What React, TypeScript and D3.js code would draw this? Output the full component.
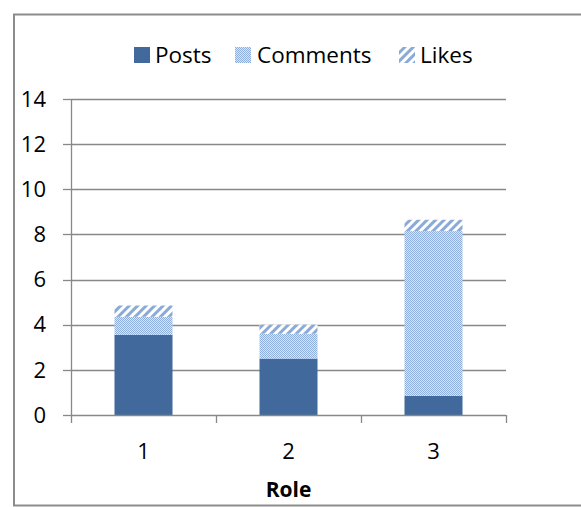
import React from 'react';
import * as d3 from 'd3';

const roles = ['1', '2', '3'];
const posts = [3.55, 2.5, 0.85];
const comments = [0.8, 1.1, 7.3];
const likes = [0.5, 0.4, 0.5];
const seriesNames = ['Posts', 'Comments', 'Likes'];
const yTicks = [0, 2, 4, 6, 8, 10, 12, 14];

const W = 581;
const H = 507;
const margin = { left: 71, right: 75, top: 99, bottom: 92 };
const font = '"Open Sans", "Liberation Sans", sans-serif';
const fills = ['#41699b', 'url(#pat-comments)', 'url(#pat-likes)'];
const gridColor = '#888888';

export default function App() {
  const x = d3.scaleBand<string>()
    .domain(roles)
    .range([margin.left, W - margin.right])
    .paddingInner(0.6)
    .paddingOuter(0.3);
  const y = d3.scaleLinear().domain([0, 14]).range([H - margin.bottom, margin.top]);

  const table = roles.map((r, i) => ({ role: r, Posts: posts[i], Comments: comments[i], Likes: likes[i] }));
  const stacked = d3.stack<any>().keys(seriesNames)(table);

  const step = x.step();
  const boundaries = d3.range(roles.length + 1).map(i => margin.left + i * step);

  const legendItems = [
    { name: 'Posts', sx: 134, tx: 155 },
    { name: 'Comments', sx: 235, tx: 257 },
    { name: 'Likes', sx: 399, tx: 420 },
  ];

  return (
    <svg width={W} height={H} style={{ position: 'absolute', left: 0, top: 0, background: '#fff' }}>
      <defs>
        <pattern id="pat-comments" width="2" height="2" patternUnits="userSpaceOnUse">
          <rect width="2" height="2" fill="#dbe5f4" />
          <rect width="1" height="1" fill="#8eafdd" />
          <rect x="1" y="1" width="1" height="1" fill="#8eafdd" />
        </pattern>
        <pattern id="pat-likes" width="6" height="6" patternUnits="userSpaceOnUse" patternTransform="rotate(45)">
          <rect width="6" height="6" fill="#ffffff" />
          <rect width="3" height="6" fill="#8aaad8" />
        </pattern>
      </defs>

      <rect x={14} y={14.5} width={W} height={H - 16} fill="#fff" stroke="#8c8c8c" strokeWidth={2} />

      {yTicks.map(t => (
        <g key={t}>
          {t > 0 && (
            <line x1={margin.left} x2={W - margin.right} y1={Math.round(y(t)) + 0.5} y2={Math.round(y(t)) + 0.5}
              stroke={gridColor} strokeWidth={1.3} />
          )}
          <line x1={margin.left - 8} x2={margin.left} y1={Math.round(y(t)) + 0.5} y2={Math.round(y(t)) + 0.5}
            stroke={gridColor} strokeWidth={1.3} />
          <text x={margin.left - 25} y={y(t)} dy="0.35em" textAnchor="end" fontFamily={font} fontSize={22} fill="#000">{t}</text>
        </g>
      ))}

      {stacked.map((s, si) => s.map((d, i) => (
        <rect key={si + '-' + i} x={x(roles[i])} width={x.bandwidth()}
          y={y(d[1])} height={y(d[0]) - y(d[1])} fill={fills[si]} />
      )))}

      <line x1={margin.left + 0.5} x2={margin.left + 0.5} y1={margin.top} y2={y(0)} stroke={gridColor} strokeWidth={1.3} />
      <line x1={margin.left} x2={W - margin.right} y1={Math.round(y(0)) + 0.5} y2={Math.round(y(0)) + 0.5} stroke={gridColor} strokeWidth={1.3} />
      {boundaries.map((b, i) => (
        <line key={i} x1={Math.round(b) + 0.5} x2={Math.round(b) + 0.5} y1={y(0)} y2={y(0) + 8} stroke={gridColor} strokeWidth={1.3} />
      ))}
      {roles.map(r => (
        <text key={r} x={(x(r) as number) + x.bandwidth() / 2} y={451} dy="0.35em" textAnchor="middle"
          fontFamily={font} fontSize={22} fill="#000">{r}</text>
      ))}
      <text x={(margin.left + W - margin.right) / 2} y={490} dy="0.35em" textAnchor="middle"
        fontFamily={font} fontSize={21} fontWeight="bold" fill="#000">Role</text>

      {legendItems.map((it, i) => (
        <g key={it.name}>
          <rect x={it.sx} y={47} width={16} height={16} fill={fills[i]} />
          <text x={it.tx} y={55} dy="0.35em" fontFamily={font} fontSize={22.5} fill="#000">{it.name}</text>
        </g>
      ))}
    </svg>
  );
}
